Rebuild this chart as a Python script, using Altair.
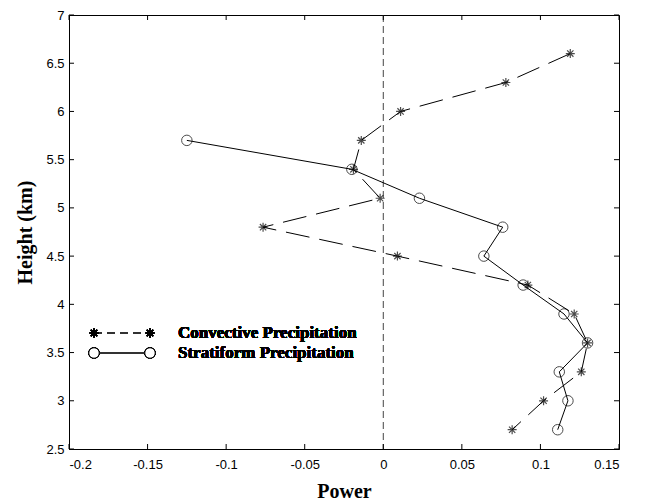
import altair as alt
import pandas as pd

heights_conv = [6.6, 6.3, 6.0, 5.7, 5.4, 5.1, 4.8, 4.5, 4.2, 3.9, 3.6, 3.3, 3.0, 2.7]
power_conv = [0.119, 0.078, 0.011, -0.014, -0.019, -0.002, -0.0765, 0.009, 0.092, 0.1215, 0.130, 0.126, 0.102, 0.082]

heights_strat = [5.7, 5.4, 5.1, 4.8, 4.5, 4.2, 3.9, 3.6, 3.3, 3.0, 2.7]
power_strat = [-0.125, -0.020, 0.023, 0.076, 0.064, 0.089, 0.115, 0.130, 0.112, 0.1175, 0.111]

x_ticks = [-0.2, -0.15, -0.1, -0.05, 0, 0.05, 0.1, 0.15]
y_ticks = [2.5, 3, 3.5, 4, 4.5, 5, 5.5, 6, 6.5, 7]

W, H = 550, 434
STAR = "M-1,0L1,0M0,-1L0,1M-0.7,-0.7L0.7,0.7M-0.7,0.7L0.7,-0.7"

conv = pd.DataFrame({"power": power_conv, "height": heights_conv, "i": range(len(power_conv))})
strat = pd.DataFrame({"power": power_strat, "height": heights_strat, "i": range(len(power_strat))})
xt = pd.DataFrame({"t": x_ticks})
yt = pd.DataFrame({"t": y_ticks})

xscale = alt.Scale(domain=[-0.2, 0.15], nice=False, zero=False)
yscale = alt.Scale(domain=[2.5, 7], nice=False, zero=False)

xaxis = alt.Axis(values=x_ticks, title="Power", grid=False, tickSize=0, labelPadding=9,
                 labelFont="Liberation Sans", labelFontSize=13, labelColor="black",
                 titleFont="Liberation Serif", titleFontSize=20, titleFontWeight="bold",
                 titleColor="black", titlePadding=10, domainColor="black",
                 labelExpr="'' + datum.value")
yaxis = alt.Axis(values=y_ticks, title="Height (km)", grid=False, tickSize=0, labelPadding=5,
                 labelFont="Liberation Sans", labelFontSize=13, labelColor="black",
                 titleFont="Liberation Serif", titleFontSize=20, titleFontWeight="bold",
                 titleColor="black", titlePadding=10, domainColor="black",
                 labelExpr="'' + datum.value")

base_x = alt.X("power:Q", scale=xscale, axis=xaxis)
base_y = alt.Y("height:Q", scale=yscale, axis=yaxis)

zero_line = alt.Chart(pd.DataFrame({"power": [0]})).mark_rule(
    color="#444444", strokeDash=[7, 4], strokeWidth=1
).encode(x=alt.X("power:Q", scale=xscale, axis=xaxis))

conv_line = alt.Chart(conv).mark_line(color="black", strokeWidth=1, strokeDash=[24, 10]).encode(
    x=base_x, y=base_y, order="i:Q")
conv_pts = alt.Chart(conv).mark_point(shape=STAR, size=81, color="black", filled=False, strokeWidth=1.2).encode(
    x=base_x, y=base_y)

strat_line = alt.Chart(strat).mark_line(color="black", strokeWidth=1).encode(
    x=base_x, y=base_y, order="i:Q")
strat_pts = alt.Chart(strat).mark_point(shape="circle", size=110, color="black", filled=False, strokeWidth=1).encode(
    x=base_x, y=base_y)

# inward ticks on all four sides
tick_style = dict(color="black", strokeWidth=1)
xt_bottom = alt.Chart(xt).mark_rule(**tick_style).encode(
    x=alt.X("t:Q", scale=xscale, axis=xaxis), y=alt.value(H), y2=alt.value(H - 5))
xt_top = alt.Chart(xt).mark_rule(**tick_style).encode(
    x=alt.X("t:Q", scale=xscale, axis=xaxis), y=alt.value(0), y2=alt.value(5))
yt_left = alt.Chart(yt).mark_rule(**tick_style).encode(
    y=alt.Y("t:Q", scale=yscale, axis=yaxis), x=alt.value(0), x2=alt.value(5))
yt_right = alt.Chart(yt).mark_rule(**tick_style).encode(
    y=alt.Y("t:Q", scale=yscale, axis=yaxis), x=alt.value(W), x2=alt.value(W - 5))

# legend
ly1, ly2 = 318, 338
lx1, lx2, ltx = 25, 81, 109
leg_conv_line = alt.Chart(conv).mark_rule(color="#333333", strokeWidth=1, strokeDash=[8, 5]).encode(
    x=alt.value(lx1), x2=alt.value(lx2), y=alt.value(ly1))
leg_strat_line = alt.Chart(strat).mark_rule(color="#333333", strokeWidth=1).encode(
    x=alt.value(lx1), x2=alt.value(lx2), y=alt.value(ly2))
leg_conv_pts = [alt.Chart(conv).mark_point(shape=STAR, size=81, color="black", filled=False, strokeWidth=1.2).encode(
    x=alt.value(px), y=alt.value(ly1)) for px in (lx1, lx2)]
leg_strat_pts = [alt.Chart(strat).mark_point(shape="circle", size=110, color="black", fill="white", filled=True,
                                              stroke="black", strokeWidth=1).encode(
    x=alt.value(px), y=alt.value(ly2)) for px in (lx1, lx2)]
txt_style = dict(align="left", baseline="middle", font="Liberation Serif", fontSize=17,
                 fontWeight="bold", color="black")
leg_t1 = alt.Chart(conv).mark_text(**txt_style).encode(
    x=alt.value(ltx), y=alt.value(ly1), text=alt.value("Convective Precipitation"))
leg_t2 = alt.Chart(strat).mark_text(**txt_style).encode(
    x=alt.value(ltx), y=alt.value(ly2), text=alt.value("Stratiform Precipitation"))

chart = alt.layer(
    zero_line, strat_line, conv_line, strat_pts, conv_pts,
    xt_bottom, xt_top, yt_left, yt_right,
    leg_conv_line, leg_strat_line, *leg_conv_pts, *leg_strat_pts, leg_t1, leg_t2,
).properties(
    width=W, height=H,
    autosize=alt.AutoSizeParams(type="none"),
    padding={"left": 61, "top": 7, "right": 15, "bottom": 52},
    background="white",
).configure_view(stroke="black", strokeWidth=1)

chart.save("out.html", embed_options={"renderer": "svg", "actions": False})
